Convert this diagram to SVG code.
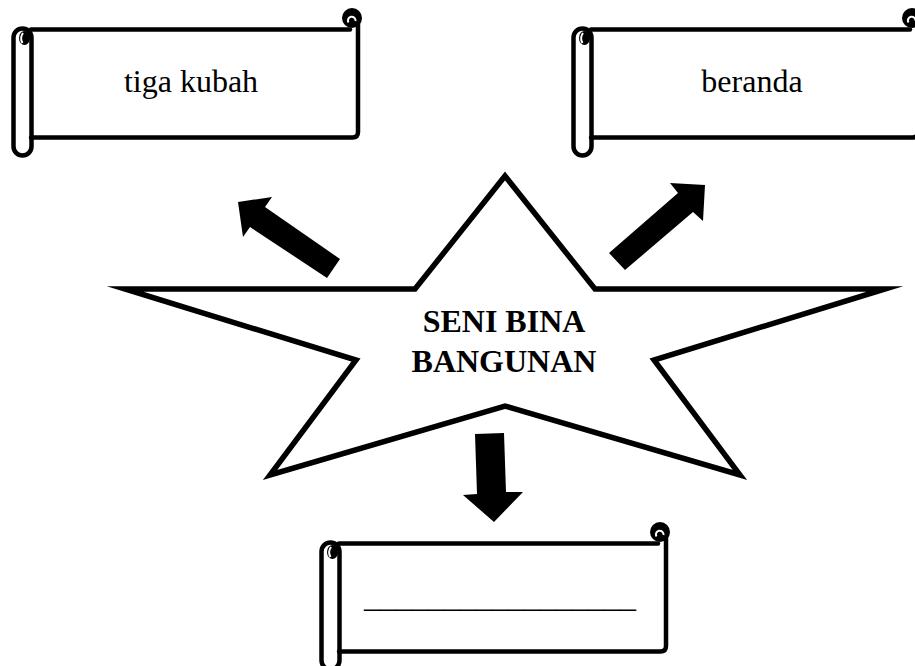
<svg xmlns="http://www.w3.org/2000/svg" xmlns:xlink="http://www.w3.org/1999/xlink" width="915" height="666" viewBox="0 0 915 666">
<style>
.ln{fill:none;stroke:#000;stroke-width:4.5;stroke-linecap:round;stroke-linejoin:round}
.lbl{font-family:"Liberation Serif","Times New Roman",serif;font-size:32px;fill:#000;text-anchor:middle}
.bold{font-weight:bold}
.arrow{fill:#000;stroke:none}
</style>
<defs>
<g id="scroll">
<path d="M31,29.5 H352 V18 H358 V132 Q358,137.5 352.5,137.5 H31 Z" fill="#fff"/>
<path class="ln" d="M31,29.5 H350"/>
<path class="ln" d="M358,20 V132 Q358,137.5 352.5,137.5 H31"/>
<circle cx="352" cy="18" r="10" fill="#000"/>
<path d="M348.5,22.5 A3.8,3.8 0 1 1 355.5,21" fill="none" stroke="#fff" stroke-width="2"/>
<rect class="ln" x="13.5" y="28.5" width="18" height="127" rx="9" ry="9" fill="#fff"/>
<ellipse cx="24.5" cy="38" rx="5.5" ry="7" fill="#000"/>
<path d="M23,33 Q19.5,38 22.5,43" fill="none" stroke="#fff" stroke-width="2"/>
</g>
</defs>
<rect width="915" height="666" fill="#fff"/>
<g id="star">
<path d="M505,176 L595,289 L885,289 L654,360 L740,475 L505,406 L270,475 L356,360 L125,289 L415,289 Z" fill="#fff" stroke="#000" stroke-width="5.5" stroke-linejoin="miter" stroke-miterlimit="12"/>
<text class="lbl bold" x="504" y="332">SENI BINA</text>
<text class="lbl bold" x="504" y="372">BANGUNAN</text>
</g>
<g id="node-tiga-kubah">
<use xlink:href="#scroll"/>
<text class="lbl" x="191" y="92">tiga kubah</text>
</g>
<g id="node-beranda">
<use xlink:href="#scroll" transform="translate(560,0)"/>
<text class="lbl" x="752" y="92">beranda</text>
</g>
<g id="node-blank">
<use xlink:href="#scroll" transform="translate(308,514)"/>
<text class="lbl" x="500" y="607">_________________</text>
</g>
<g id="connectors">
<polygon class="arrow" points="238,202 272,197 265,207 340,259 327,278 250,227 243,237"/>
<polygon class="arrow" points="705,185 670,183 678,193 609,253 625,270 693,212 703,221"/>
<polygon class="arrow" points="475,434 504,433 506,492 523,492 494,522 463,495 477,494"/>
</g>
</svg>
